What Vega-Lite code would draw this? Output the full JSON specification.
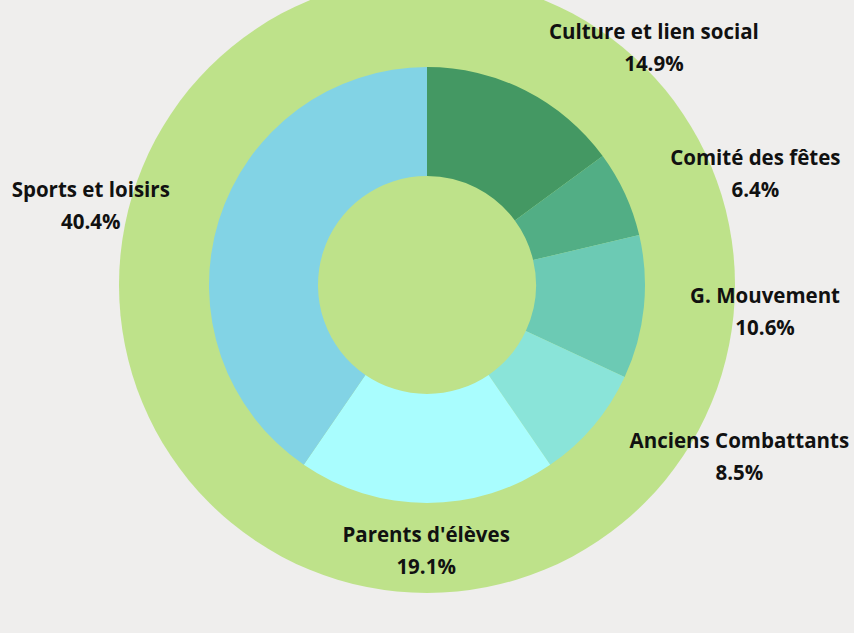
{
  "$schema": "https://vega.github.io/schema/vega-lite/v6.json",
  "width": 854,
  "height": 570,
  "autosize": "none",
  "padding": {"left": 0, "top": 0, "right": 0, "bottom": 63},
  "background": "#efeeed",
  "config": {"view": {"stroke": null}, "text": {"font": "Open Sans", "fontSize": 20.5, "fontWeight": "bold", "fill": "#111111"}},
  "data": {"values": [
    {"idx": 1, "name": "Culture et lien social", "value": 0.149},
    {"idx": 2, "name": "Comité des fêtes", "value": 0.064},
    {"idx": 3, "name": "G. Mouvement", "value": 0.106},
    {"idx": 4, "name": "Anciens Combattants", "value": 0.085},
    {"idx": 5, "name": "Parents d'élèves", "value": 0.191},
    {"idx": 6, "name": "Sports et loisirs", "value": 0.404}
  ]},
  "transform": [
    {"stack": "value", "groupby": [], "sort": [{"field": "idx", "order": "ascending"}], "as": ["v0", "v1"]}
  ],
  "layer": [
    {
      "data": {"values": [{"shape": "blob"}]},
      "transform": [],
      "mark": {"type": "arc", "radius": 308, "theta": 0, "theta2": 6.2832, "fill": "#bee28a"},
      "encoding": {}
    },
    {
      "mark": {"type": "arc", "innerRadius": 109, "outerRadius": 218, "stroke": null},
      "encoding": {
        "theta": {"field": "v0", "type": "quantitative", "scale": {"domain": [0, 0.999]}},
        "theta2": {"field": "v1"},
        "color": {"field": "name", "type": "nominal", "legend": null,
          "scale": {"domain": ["Culture et lien social", "Comité des fêtes", "G. Mouvement", "Anciens Combattants", "Parents d'élèves", "Sports et loisirs"],
                    "range": ["#449863", "#52ae85", "#6ccab4", "#8ae4d9", "#a9fdfe", "#82d3e5"]}}
      }
    },
    {
      "transform": [{"filter": "datum.idx == 1"}],
      "layer": [
        {"mark": {"type": "text", "radius": 329, "thetaOffset": 0.761, "dy": -14}, "encoding": {"theta": {"field": "v0", "type": "quantitative"}, "text": {"field": "name"}}},
        {"mark": {"type": "text", "radius": 329, "thetaOffset": 0.761, "dy": 18}, "encoding": {"theta": {"field": "v0", "type": "quantitative"}, "text": {"field": "value", "type": "quantitative", "format": ".1%"}}}
      ]
    },
    {
      "transform": [{"filter": "datum.idx == 2"}],
      "layer": [
        {"mark": {"type": "text", "radius": 347, "thetaOffset": 0.304, "dy": -14}, "encoding": {"theta": {"field": "v0", "type": "quantitative"}, "text": {"field": "name"}}},
        {"mark": {"type": "text", "radius": 347, "thetaOffset": 0.304, "dy": 18}, "encoding": {"theta": {"field": "v0", "type": "quantitative"}, "text": {"field": "value", "type": "quantitative", "format": ".1%"}}}
      ]
    },
    {
      "transform": [{"filter": "datum.idx == 3"}],
      "layer": [
        {"mark": {"type": "text", "radius": 339, "thetaOffset": 0.305, "dy": -13}, "encoding": {"theta": {"field": "v0", "type": "quantitative"}, "text": {"field": "name"}}},
        {"mark": {"type": "text", "radius": 339, "thetaOffset": 0.305, "dy": 19}, "encoding": {"theta": {"field": "v0", "type": "quantitative"}, "text": {"field": "value", "type": "quantitative", "format": ".1%"}}}
      ]
    },
    {
      "transform": [{"filter": "datum.idx == 4"}],
      "layer": [
        {"mark": {"type": "text", "radius": 356, "thetaOffset": 0.065, "dy": -14}, "encoding": {"theta": {"field": "v0", "type": "quantitative"}, "text": {"field": "name"}}},
        {"mark": {"type": "text", "radius": 356, "thetaOffset": 0.065, "dy": 18}, "encoding": {"theta": {"field": "v0", "type": "quantitative"}, "text": {"field": "value", "type": "quantitative", "format": ".1%"}}}
      ]
    },
    {
      "transform": [{"filter": "datum.idx == 5"}],
      "layer": [
        {"mark": {"type": "text", "radius": 265, "thetaOffset": 0.604, "dy": -14}, "encoding": {"theta": {"field": "v0", "type": "quantitative"}, "text": {"field": "name"}}},
        {"mark": {"type": "text", "radius": 265, "thetaOffset": 0.604, "dy": 18}, "encoding": {"theta": {"field": "v0", "type": "quantitative"}, "text": {"field": "value", "type": "quantitative", "format": ".1%"}}}
      ]
    },
    {
      "transform": [{"filter": "datum.idx == 6"}],
      "layer": [
        {"mark": {"type": "text", "radius": 346, "thetaOffset": 1.208, "dy": -12}, "encoding": {"theta": {"field": "v0", "type": "quantitative"}, "text": {"field": "name"}}},
        {"mark": {"type": "text", "radius": 346, "thetaOffset": 1.208, "dy": 20}, "encoding": {"theta": {"field": "v0", "type": "quantitative"}, "text": {"field": "value", "type": "quantitative", "format": ".1%"}}}
      ]
    }
  ]
}
